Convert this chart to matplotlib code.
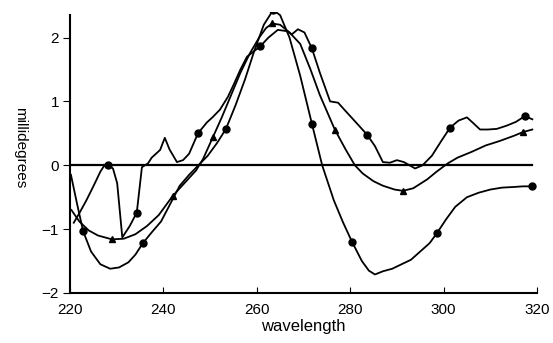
import numpy as np
import matplotlib.pyplot as plt

plt.rcParams['font.family'] = ['Liberation Sans', 'DejaVu Sans']

# --- curve A: deepest trough after the peak ---
wl_a = [220.2, 221.5, 222.8, 224.5, 226.5, 228.6, 230.5, 232.5, 234, 235.6,
        237.5, 239.5, 241.5, 243.5, 245.5, 247.5, 249.5, 251.5, 253.4, 255.5,
        257.5, 259.5, 261.5, 263.5, 265, 267, 269.3, 271.8, 274, 276.5,
        278.5, 280.4, 282.5, 284, 285.3, 287, 289, 291, 293, 295,
        297, 298.6, 300.5, 302.5, 305, 307.5, 310, 312.5, 315, 317, 319]
cd_a = [-0.15, -0.6, -1.03, -1.35, -1.55, -1.62, -1.6, -1.52, -1.4, -1.22,
        -1.05, -0.88, -0.6, -0.32, -0.15, 0.0, 0.15, 0.35, 0.57, 0.95,
        1.35, 1.8, 2.2, 2.43, 2.35, 2.0, 1.4, 0.65, 0.0, -0.55,
        -0.9, -1.2, -1.5, -1.65, -1.71, -1.66, -1.62, -1.55, -1.48, -1.35,
        -1.22, -1.06, -0.85, -0.65, -0.5, -0.43, -0.38, -0.35, -0.34, -0.33, -0.33]
mk_a_wl = [222.8, 235.6, 253.4, 263.5, 271.8, 280.4, 298.6, 319]
mk_a_cd = [-1.03, -1.22, 0.57, 2.43, 0.65, -1.2, -1.06, -0.33]

# --- curve B: shallow trough near 290 ---
wl_b = [220.3, 222, 224, 226, 229, 231.5, 234, 236.5, 239, 242,
        244.5, 247, 248.5, 250.6, 252.5, 254.5, 256.5, 258.5, 260.5, 262,
        263.3, 265, 267, 269.3, 271.5, 273.5, 276.7, 279, 281, 282.7,
        285, 287, 289.5, 291.3, 293.5, 295, 296.5, 298.5, 300.9, 303,
        306, 309, 312, 315, 317, 319]
cd_b = [-0.7, -0.88, -1.02, -1.1, -1.16, -1.15, -1.08, -0.95, -0.78, -0.48,
        -0.28, -0.08, 0.1, 0.44, 0.75, 1.1, 1.45, 1.75, 2.0, 2.15,
        2.22, 2.2, 2.08, 1.9, 1.5, 1.1, 0.56, 0.25, 0.0, -0.13,
        -0.25, -0.32, -0.38, -0.4, -0.36, -0.29, -0.22, -0.1, 0.03, 0.12,
        0.21, 0.31, 0.38, 0.46, 0.52, 0.56]
mk_b_wl = [229, 242, 250.6, 263.3, 276.7, 291.3, 317]
mk_b_cd = [-1.16, -0.48, 0.44, 2.22, 0.56, -0.4, 0.52]

# --- curve C: the bumpy one ---
wl_c = [220.8, 222, 223.5, 225, 226.5, 227.3, 228.1, 229.2, 230.1, 231.2,
        232.8, 234.3, 235.4, 236.7, 237.5, 239.3, 240.3, 241.3, 242.9, 244.2,
        245.5, 247.4, 249.3, 250.5, 252.1, 253.8, 254.9, 256.5, 257.9, 260.7,
        262.5, 264.5, 266.5, 267.5, 268.8, 270.2, 271.8, 273.5, 275.7, 277.4,
        279, 281.5, 283.6, 285.3, 287, 288.5, 290, 291.5, 293.9, 295.5,
        297.5, 299.5, 301.4, 303.2, 305, 306.5, 307.8, 309.5, 311.4, 313.5,
        315.5, 317.4, 319]
cd_c = [-0.9, -0.75, -0.55, -0.33, -0.1, -0.01, 0.0, -0.05, -0.28, -1.13,
        -0.95, -0.74, -0.03, 0.03, 0.12, 0.24, 0.43, 0.25, 0.05, 0.08,
        0.18, 0.5, 0.67, 0.75, 0.87, 1.07, 1.24, 1.5, 1.7, 1.86,
        2.0, 2.12, 2.1, 2.05, 2.13, 2.08, 1.83, 1.45, 1.0, 0.98,
        0.85, 0.65, 0.48, 0.3, 0.05, 0.04, 0.08, 0.05, -0.05, 0.0,
        0.15, 0.38, 0.59, 0.7, 0.75, 0.65, 0.56, 0.56, 0.57, 0.62,
        0.68, 0.77, 0.72]
mk_c_wl = [228.1, 234.3, 247.4, 260.7, 271.8, 283.6, 301.4, 317.4]
mk_c_cd = [0.0, -0.74, 0.5, 1.86, 1.83, 0.48, 0.59, 0.77]

# baseline
base_wl = [220, 319]
base_cd = [0, 0]

x_ticks = [220, 240, 260, 280, 300, 320]
y_ticks = [-2, -1, 0, 1, 2]

fig = plt.figure(figsize=(5.53, 3.43), dpi=100)
ax = fig.add_axes([70 / 553, 50 / 343, 467 / 553, 281 / 343])

ax.plot(base_wl, base_cd, color='black', lw=1.6)
ax.plot(wl_a, cd_a, color='black', lw=1.3)
ax.plot(wl_b, cd_b, color='black', lw=1.3)
ax.plot(wl_c, cd_c, color='black', lw=1.3)
ax.plot(mk_a_wl, mk_a_cd, 'o', color='black', ms=5)
ax.plot(mk_b_wl, mk_b_cd, '^', color='black', ms=5)
ax.plot(mk_c_wl, mk_c_cd, 'o', color='black', ms=5)

ax.set_xlim(220, 320)
ax.set_ylim(-2, 2.4)
ax.spines['top'].set_visible(False)
ax.spines['right'].set_visible(False)
ax.spines['left'].set_bounds(-2, 2.35)
ax.spines['left'].set_linewidth(1.5)
ax.spines['bottom'].set_linewidth(1.5)

ax.set_xticks(x_ticks)
ax.set_yticks(y_ticks)
ax.tick_params(axis='x', direction='in', length=4, labelsize=11, pad=7)
ax.tick_params(axis='y', direction='out', length=5, labelsize=11, pad=3)

ax.set_xlabel('wavelength', fontsize=12, labelpad=2)
ax.set_ylabel('millidegrees', fontsize=11, rotation=270, ha='center', va='center')
ax.yaxis.set_label_coords(-0.107, 0.516)

fig.savefig('out.png', dpi=100)
